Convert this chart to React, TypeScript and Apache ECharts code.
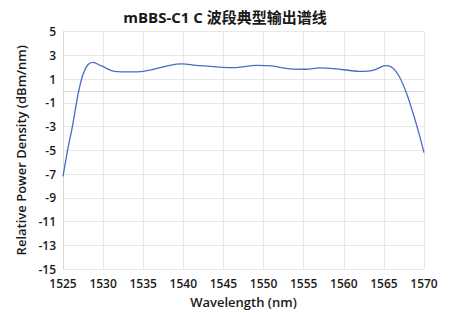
import React, { useEffect, useRef } from "react";
import * as echarts from "echarts";

const titleText = "mBBS-C1 C 波段典型输出谱线";
const xName = "Wavelength (nm)";
const yName = "Relative Power Density (dBm/nm)";

const wavelengths = [
  1525, 1525.6, 1526.2, 1526.9, 1527.5, 1528.1, 1528.7, 1529.8, 1531.4, 1533.5,
  1535.0, 1536.2, 1538.3, 1539.8, 1541.6, 1545.0, 1546.6, 1549.1, 1551.0, 1553.3,
  1555.3, 1557.0, 1559.1, 1562.0, 1563.6, 1565.3, 1566.1, 1566.9, 1567.8, 1568.6,
  1569.45, 1570,
];
const power = [
  -7.2, -4.9, -2.9, -0.2, 1.4, 2.2, 2.4, 2.1, 1.65, 1.6,
  1.65, 1.8, 2.15, 2.27, 2.15, 1.98, 1.96, 2.15, 2.1, 1.85,
  1.82, 1.93, 1.85, 1.65, 1.73, 2.12, 1.93, 1.23, -0.15, -1.8,
  -3.77, -5.2,
];

export default function App() {
  const ref = useRef<HTMLDivElement>(null);
  useEffect(() => {
    if (!ref.current) return;
    const chart = echarts.init(ref.current, undefined, { renderer: "svg" });
    const labelStyle = {
      color: "#1a1a1a",
      fontSize: 12,
      fontWeight: 600 as any,
      fontFamily: "Open Sans, sans-serif",
    };
    chart.setOption({
      animation: false,
      backgroundColor: "#ffffff",
      title: {
        text: titleText,
        left: "center",
        top: 4,
        textStyle: {
          fontSize: 15,
          fontWeight: "bold",
          color: "#1a1a1a",
          fontFamily: "Open Sans, Noto Sans CJK SC, sans-serif",
        },
      },
      grid: { left: 63, right: 26, top: 31.5, bottom: 41.5 },
      xAxis: {
        type: "value",
        min: 1525,
        max: 1570,
        interval: 5,
        name: xName,
        nameLocation: "middle",
        nameGap: 26,
        nameTextStyle: { ...labelStyle, fontSize: 13 },
        axisLine: { show: true, lineStyle: { color: "#d9d9d9" } },
        axisTick: { show: false },
        axisLabel: { ...labelStyle, margin: 8, formatter: (v: number) => String(v) },
        splitLine: { show: true, lineStyle: { color: "#e8e8e8" } },
      },
      yAxis: {
        type: "value",
        min: -15,
        max: 5,
        interval: 2,
        name: yName,
        nameLocation: "middle",
        nameGap: 34,
        nameTextStyle: { ...labelStyle, fontSize: 13 },
        axisLine: { show: true, lineStyle: { color: "#d9d9d9" } },
        axisTick: { show: false },
        axisLabel: { ...labelStyle, margin: 7 },
        splitLine: { show: true, lineStyle: { color: "#e8e8e8" } },
      },
      series: [
        {
          type: "line",
          data: wavelengths.map((w, i) => [w, power[i]]),
          smooth: 0.35,
          showSymbol: false,
          lineStyle: { color: "#4a6cc0", width: 1.3 },
        },
      ],
    });
    return () => chart.dispose();
  }, []);
  return (
    <div
      ref={ref}
      style={{ position: "absolute", left: 0, top: 0, width: 450, height: 313 }}
    />
  );
}
